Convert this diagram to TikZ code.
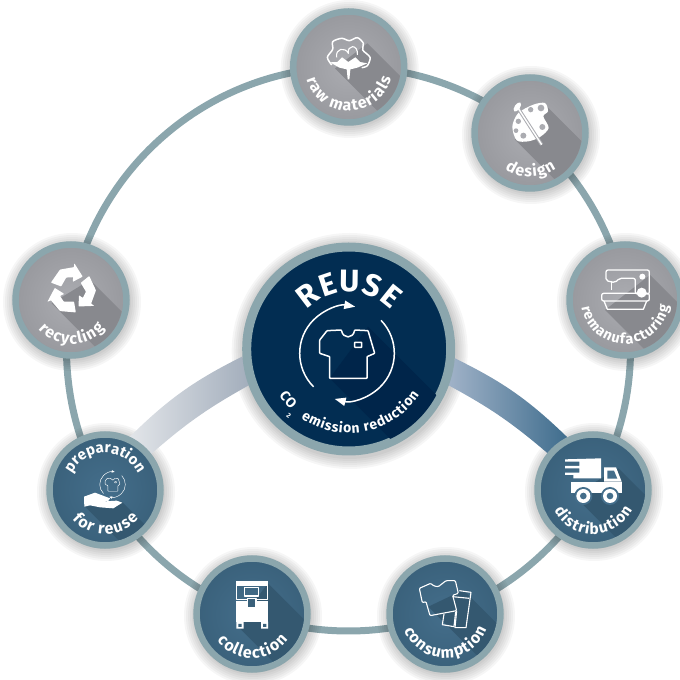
\documentclass[tikz,border=0pt]{standalone}
\usepackage{fontspec}
\setmainfont{Fira Sans}
\usetikzlibrary{calc,decorations.text,arrows.meta}
\definecolor{ringc}{HTML}{8BA6AD}
\definecolor{gin}{HTML}{ABACB1}
\definecolor{gout}{HTML}{98999E}
\definecolor{gsh}{HTML}{88898E}
\definecolor{bin}{HTML}{446E8B}
\definecolor{bout}{HTML}{3A617B}
\definecolor{bsh}{HTML}{345870}
\definecolor{navy}{HTML}{022D52}
\definecolor{navysh}{HTML}{00254A}
\definecolor{spokeLa}{HTML}{E2E5E9}
\definecolor{spokeLb}{HTML}{A3AEBC}
\definecolor{spokeRa}{HTML}{A0B2C8}
\definecolor{spokeRb}{HTML}{3F6D8D}
\pgfdeclarelayer{bg}
\pgfsetlayers{bg,main}
\tikzset{
  hub/.style={circle,draw=ringc,line width=6.5pt,minimum size=111pt,inner sep=0pt,outer sep=3.25pt},
  grayhub/.style={hub,inner color=gin,outer color=gout},
  bluehub/.style={hub,inner color=bin,outer color=bout},
  iconat/.style n args={3}{shift={(#1)},x=.3333pt,y=-.3333pt,shift={(-#2,-#3)}},
  iconline/.style={draw=white,line width=1.3pt,line join=round},
  iconfill/.style={fill=white}
}
\newcommand\halo[2]{\foreach \r in {53,55,...,69}{\fill[black,opacity=.035] ($(#1)+(1,-2)$) circle[radius=\r pt*#2];}}
\newcommand\lsh[9][52]{\begin{scope}\clip (#2) circle[radius=#1pt];
  \fill[#9,iconat={#2}{#3}{#4}] (#5,#6)--++(400,400)--($(#7,#8)+(400,400)$)--(#7,#8)--cycle;\end{scope}}
\newcommand\arctextk[7]{\path[decorate,decoration={text along path,text align=center,
  text={|\color{white}\fontsize{#5}{#5}\selectfont\bfseries\kern#7em|#6}}]
  ($(#1)+(#3:#2pt)$) arc[start angle=#3,end angle=#4,radius=#2pt];}
\newcommand\arctext[6]{\arctextk{#1}{#2}{#3}{#4}{#5}{#6}{.07}}
\newcommand\reusemark[2]{% line width, arrow length
  \draw[draw=white,line width=#1,line join=round,rounded corners=.6pt] (305,270) .. controls (310,297) and (340,297) .. (345,270)
    --(385,272)--(405,340)--(382,350)--(382,415)--(270,415)--(270,350)--(240,340)--(240,300)--(262,272)--cycle;
  \draw[white,line width=#1,rounded corners=.5pt] (345,307) rectangle (366,322);
  \draw[white,line width=#1,-{Triangle[length=#2,width=#2*.75]}] (221.6,440.4) arc[start angle=135,end angle=280,radius=142];
  \draw[white,line width=#1,-{Triangle[length=#2,width=#2*.75]}] (424,241) arc[start angle=-44,end angle=105,radius=142];
}
\begin{document}
\begin{tikzpicture}[x=1pt,y=1pt]
\useasboundingbox (0,0) rectangle (680,680);
% hubs
\node[circle,minimum size=564pt,inner sep=0pt] (ring) at (348.5,331) {};
\node[grayhub] (raw) at (348.7,613) {};
\node[grayhub] (design) at (530,547) {};
\node[grayhub] (reman) at (625,380) {};
\node[bluehub] (distr) at (593,190) {};
\node[bluehub] (cons) at (445,66) {};
\node[bluehub] (coll) at (252,66) {};
\node[bluehub] (prep) at (105,190) {};
\node[grayhub] (recyc) at (71,380) {};
\node[circle,draw=ringc,line width=9pt,minimum size=204pt,inner sep=0pt,outer sep=4.5pt,fill=navy] (reuse) at (348.7,331) {};
\begin{pgfonlayer}{bg}
  \draw[ringc,line width=7pt] (ring) circle[radius=282pt];
  \foreach \n in {raw,design,reman,distr,cons,coll,prep,recyc}{\halo{\n}{1}}
  \foreach \r in {108,110,...,118}{\fill[black,opacity=.035] ($(reuse)+(1,-2)$) circle[radius=\r pt];}
  \shade[left color=spokeLa,right color=spokeLb] (reuse.184) to[bend right=9] (prep.65) -- (prep.38) to[bend left=6] (reuse.200) -- cycle;
  \shade[left color=spokeRa,right color=spokeRb] (reuse.-5) to[bend left=9] (distr.116) -- (distr.141) to[bend right=6] (reuse.-20) -- cycle;
\end{pgfonlayer}
% long shadows
\lsh{raw}{206}{201}{165}{205}{262}{130}{gsh}
\lsh{design}{750}{400}{705}{420}{800}{320}{gsh}
\lsh{reman}{285}{180}{225}{210}{360}{105}{gsh}
\lsh{recyc}{213}{150}{155}{160}{270}{90}{gsh}
\lsh{distr}{189}{750}{130}{765}{265}{685}{bsh}
\lsh{cons}{765}{192}{715}{170}{820}{120}{bsh}
\lsh{coll}{187}{192}{140}{225}{235}{100}{bsh}
\lsh{prep}{315}{720}{255}{770}{365}{755}{bsh}
\lsh[99]{reuse}{327}{327}{270}{415}{385}{260}{navysh}
% central icon
\begin{scope}[iconat={reuse}{327}{327}]
  \reusemark{1.5pt}{11pt}
\end{scope}
% cotton
\begin{scope}[iconat={raw}{206}{201}]
  \draw[iconline,line width=1.5pt] plot[smooth] coordinates {(155,195)(142,172)(158,148)(158,125)(185,115)(208,122)(232,113)(250,130)(248,150)(270,172)(262,197)(245,203)};
  \draw[iconline,line width=1.1pt] (170,172) .. controls (165,145) and (195,140) .. (205,160) .. controls (200,135) and (235,130) .. (232,165);
  \fill[white] (150,187)--(172,186)--(186,172)--(205,186)--(226,172)--(240,186)--(262,190)--(232,203)--(211,208)--(208,238)--(203,238)--(200,208)--(178,203)--cycle;
\end{scope}
% palette
\begin{scope}[iconat={design}{750}{400}]
  \fill[white] plot[smooth cycle] coordinates {(697,380)(715,340)(760,315)(795,310)(804,335)(790,350)(806,385)(780,412)(745,425)(710,422)};
  \foreach \p/\q/\s in {783/325/10,787/382/9,730/408/9,708/393/7,715/365/8,752/330/8}{\fill[gin] (\p,\q) circle[radius=\s];}
  \draw[gin,line width=3.4pt] (712,322)--(785,435);
  \draw[white,line width=1.4pt] (712,322)--(785,435);
  \fill[white,rotate around={55:(712,322)}] (712,322) ellipse[x radius=16,y radius=8];
\end{scope}
% sewing machine
\begin{scope}[iconat={reman}{285}{180}]
  \draw[iconline,rounded corners=2pt] (228,90)--(358,90)--(358,162)--(316,162)--(316,115)--(268,115)--(255,128)--(228,122)--cycle;
  \draw[iconline] (245,122)--(245,150);
  \draw[iconline,rounded corners=2pt] (215,160) rectangle (358,183);
  \draw[iconline] (222,183)--(232,208)--(340,208)--(350,183);
  \fill[white] (337,110) circle[radius=9] (335,158) circle[radius=15];
\end{scope}
% recycle
\begin{scope}[iconat={recyc}{213}{150}]
  \foreach \a in {0,120,240}{
    \fill[white,rounded corners=.6pt,rotate around={\a:(216,121)},shift={(216,121)},scale=1.16,shift={(-216,-121)},shift={(3,3)}] (158.5,98)--(182,64.3)--(218,58)--(219,48)--(240.7,82.5)--(215,96)--(216,84)--(198,85)--(185,108)--cycle;
  }
\end{scope}
% truck
\begin{scope}[iconat={distr}{189}{750}]
  \fill[white] (105,658)--(213,655)--(213,715)--(130,715)--(130,705)--(105,705)--(105,698)--(148,698)--(148,685)--(105,685)--(105,678)--(148,678)--(148,665)--(105,665)--cycle;
  \fill[white] (122,725) rectangle (275,760);
  \fill[white] (222,682)--(258,682)--(275,725)--(222,725)--cycle;
  \fill[bin] (232,692)--(252,692)--(262,716)--(232,716)--cycle;
  \foreach \p in {160,240}{\fill[bin] (\p,768) circle[radius=27]; \fill[white] (\p,768) circle[radius=21]; \fill[bin] (\p,768) circle[radius=10];}
\end{scope}
% clothes
\begin{scope}[iconat={cons}{765}{192}]
  \draw[iconline,line width=1.1pt,rounded corners=1pt] (688,115)--(722,100)--(732,108)--(745,110)--(768,92)--(796,92)--(805,130)--(788,136)--(800,182)--(720,197)--(708,155)--(697,158)--cycle;
  \draw[iconline,line width=1.1pt] (808,122)--(843,127)--(828,233)--(795,233)--(800,182);
  \draw[iconline,line width=1.1pt] (762,192)--(757,224)--(792,230)--(797,185);
  \draw[iconline,line width=1.1pt] (788,140)--(838,145);
\end{scope}
% collection box
\begin{scope}[iconat={coll}{187}{192}]
  \fill[white] (140,92) rectangle (235,108);
  \draw[iconline,line width=1.2pt] (141,108)--(141,148)--(234,148)--(234,108);
  \draw[iconline,line width=1.2pt] (165,112) rectangle (207,138);
  \fill[white] (140,152) rectangle (235,215);
  \fill[bout] (174,148) rectangle (199,174);
  \draw[iconline,line width=1.2pt] (174,145) rectangle (199,174);
  \fill[white] (140,215) rectangle (162,236) (214,215) rectangle (235,236);
  \fill[bout] (146,222) rectangle (156,231) (220,222) rectangle (230,231);
\end{scope}
% hand
\begin{scope}[iconat={prep}{315}{720}]
  \fill[white] (252,740)--(285,728)--(330,745)--(326,752)--(300,755)--(350,752)--(367,758)--(340,775)--(300,772)--(270,766)--(253,770)--cycle;
  \begin{scope}[shift={(339,700)},x=.09pt,y=-.09pt,shift={(-327,-327)}]
    \reusemark{.45pt}{3pt}
  \end{scope}
\end{scope}
% labels
\arctext{raw}{44}{-170}{-10}{16}{raw materials}
\arctext{design}{44}{-170}{-10}{16}{design}
\arctext{reman}{44}{-190}{10}{14.5}{remanufacturing}
\arctext{recyc}{44}{-170}{-10}{16}{recycling}
\arctext{distr}{44}{-170}{-10}{15.5}{distribution}
\arctext{cons}{44}{-170}{-10}{16}{consumption}
\arctext{coll}{44}{-170}{-10}{16}{collection}
\arctextk{prep}{37}{175}{5}{15}{preparation}{0}
\arctext{prep}{44}{-170}{-10}{16}{for reuse}
\arctextk{reuse}{57}{170}{10}{31}{REUSE}{.03}
\arctextk{reuse}{84}{-155}{-125}{14}{CO}{.05}
\arctextk{reuse}{84}{-128}{-30}{14}{emission reduction}{.05}
\node[text=white,font=\fontsize{7}{7}\selectfont\bfseries,rotate=-38] (two) at ($(reuse)+(-60,-67)$) {2};
\end{tikzpicture}
\end{document}
